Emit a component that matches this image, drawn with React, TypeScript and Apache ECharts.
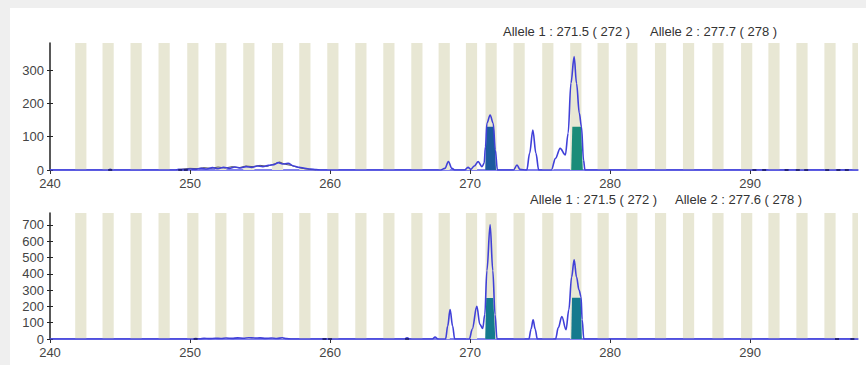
import React, { useEffect, useRef } from "react";
import * as echarts from "echarts";

const X_MIN = 240;
const X_MAX = 297.7;
const X_TICKS = [240, 250, 260, 270, 280, 290];
const TOP_Y_MAX = 381;
const TOP_Y_TICKS = [0, 100, 200, 300];
const BOTTOM_Y_MAX = 773;
const BOTTOM_Y_TICKS = [0, 100, 200, 300, 400, 500, 600, 700];

const BIN_CENTERS = [
  242.2, 244.15, 246.15, 248.15, 250.2, 252.2, 254.2, 256.25, 258.2, 260.2,
  262.2, 264.2, 266.2, 268.15, 270.1, 271.5, 273.5, 275.55, 277.55, 279.5,
  281.55, 283.6, 285.6, 287.7, 289.75, 291.7, 293.7, 295.7, 297.7,
];

const TOP_TITLE_1 = "Allele 1 : 271.5 ( 272 )";
const TOP_TITLE_2 = "Allele 2 : 277.7 ( 278 )";
const BOTTOM_TITLE_1 = "Allele 1 : 271.5 ( 272 )";
const BOTTOM_TITLE_2 = "Allele 2 : 277.6 ( 278 )";

const TOP_TRACE: [number, number][] = [
  [240, 0], [244.1, 0], [244.3, 2], [244.5, 0], [248.9, 0], [249.2, 2], [249.6, 1],
  [250, 3], [250.4, 2], [250.8, 5], [251.2, 3], [251.6, 7], [252, 4], [252.4, 8],
  [252.8, 5], [253.2, 9], [253.6, 6], [254, 10], [254.4, 8], [254.8, 12], [255.2, 10],
  [255.6, 14], [256, 16], [256.3, 22], [256.6, 18], [257, 20], [257.4, 12], [257.8, 8],
  [258.2, 5], [258.6, 3], [259, 1], [259.3, 0], [267.9, 0], [268.2, 5], [268.45, 25],
  [268.7, 5], [268.9, 0], [269.6, 0], [269.85, 8], [270.05, 2], [270.3, 12], [270.57, 25],
  [270.85, 10], [271.0, 20], [271.1, 70], [271.2, 140], [271.43, 165], [271.65, 140],
  [271.8, 60], [271.95, 0], [273.1, 0], [273.35, 15], [273.55, 2], [274.05, 0],
  [274.25, 50], [274.48, 120], [274.7, 50], [274.9, 0], [275.8, 0], [276.1, 35],
  [276.43, 65], [276.8, 45], [277.0, 110], [277.2, 260], [277.43, 340], [277.6, 260],
  [277.8, 170], [277.95, 130], [278.1, 30], [278.2, 0], [297.7, 0],
];

const TOP_NOISE: [number, number][] = [
  [249, 0], [249.5, 3], [250, 5], [250.5, 4], [251, 7], [251.5, 5], [252, 9], [252.5, 6],
  [253, 10], [253.5, 7], [254, 12], [254.5, 10], [255, 14], [255.5, 11], [256, 18],
  [256.4, 24], [256.8, 17], [257.2, 14], [257.6, 9], [258, 5], [258.5, 2], [259, 0],
];

const TOP_FILL_272: [number, number][] = [[271.08, 0], [271.18, 130], [271.7, 130], [271.85, 0]];
const TOP_FILL_278: [number, number][] = [[277.22, 0], [277.3, 130], [277.92, 130], [278.05, 0]];

const BOTTOM_TRACE: [number, number][] = [
  [240, 0], [250.2, 0], [250.4, 3], [250.7, 1], [251, 4], [251.4, 2], [251.8, 5],
  [252.2, 3], [252.6, 6], [253, 4], [253.4, 7], [253.8, 5], [254.2, 8], [254.6, 6],
  [255, 7], [255.4, 4], [255.8, 6], [256.2, 3], [256.6, 8], [256.9, 2], [257.2, 0],
  [265.3, 0], [265.5, 8], [265.7, 0], [267.3, 0], [267.5, 12], [267.7, 0], [268.25, 0],
  [268.4, 80], [268.57, 180], [268.75, 80], [268.9, 0], [269.95, 0], [270.15, 60],
  [270.48, 200], [270.7, 90], [270.9, 65], [271.05, 150], [271.2, 420], [271.43, 700],
  [271.62, 420], [271.78, 150], [271.92, 0], [274.2, 0], [274.35, 60], [274.5, 118],
  [274.65, 60], [274.8, 0], [276.1, 0], [276.3, 70], [276.55, 138], [276.85, 57],
  [277.05, 180], [277.25, 380], [277.43, 486], [277.6, 380], [277.78, 300],
  [277.92, 260], [278.0, 120], [278.12, 0], [297.7, 0],
];

const BOTTOM_FILL_272: [number, number][] = [[271.08, 0], [271.15, 251], [271.65, 251], [271.8, 0]];
const BOTTOM_FILL_278: [number, number][] = [[277.22, 0], [277.28, 253], [277.9, 253], [277.98, 0]];

const TOP_DOTS = [244.3, 249.3, 249.7, 290.3, 291.0, 292.6, 293.4, 294.0, 295.5, 296.3, 296.9];
const BOTTOM_DOTS = [250.4, 259.6, 260.0, 265.5, 296.2, 297.3];

const BIN_HALF = 0.4;
const TRACE_COLOR = "#4040d8";
const STRIPE_COLOR = "#e8e7d4";
const FONT = "'Liberation Sans', Arial, sans-serif";

function xAxisCfg(gridIndex: number) {
  return {
    type: "value",
    gridIndex,
    min: X_MIN,
    max: X_MAX,
    axisLine: { show: true, onZero: false, lineStyle: { color: "#5656e6", width: 1.5 } },
    axisTick: { show: true, length: 4, customValues: X_TICKS, lineStyle: { color: "#333" } },
    axisLabel: {
      customValues: X_TICKS,
      color: "#444",
      fontSize: 13,
      fontFamily: FONT,
      margin: 7,
    },
    splitLine: { show: false },
  };
}

function yAxisCfg(gridIndex: number, max: number, ticks: number[], inside: boolean) {
  return {
    type: "value",
    gridIndex,
    min: 0,
    max,
    position: "left",
    axisLine: { show: !inside, lineStyle: { color: "#222", width: 1.5 } },
    axisTick: {
      show: true,
      inside,
      length: 3,
      customValues: ticks,
      lineStyle: { color: "#222" },
    },
    axisLabel: {
      show: !inside,
      customValues: ticks,
      color: "#444",
      fontSize: 13,
      fontFamily: FONT,
      margin: 6,
    },
    splitLine: { show: false },
  };
}

function panelSeries(
  idx: number,
  trace: [number, number][],
  fills: { data: [number, number][]; color: string }[],
  dots: number[],
  noise?: [number, number][]
) {
  const s: any[] = [];
  s.push({
    type: "line",
    xAxisIndex: idx,
    yAxisIndex: idx * 2,
    data: trace,
    symbol: "none",
    smooth: 0.35,
    smoothMonotone: "x",
    z: 4,
    lineStyle: { color: TRACE_COLOR, width: 1.6 },
    markArea: {
      silent: true,
      itemStyle: { color: STRIPE_COLOR },
      data: BIN_CENTERS.map((c) => [{ xAxis: c - BIN_HALF }, { xAxis: c + BIN_HALF }]),
    },
  });
  fills.forEach((f) =>
    s.push({
      type: "line",
      xAxisIndex: idx,
      yAxisIndex: idx * 2,
      data: f.data,
      symbol: "none",
      z: 3,
      lineStyle: { width: 0, color: f.color },
      areaStyle: { color: f.color, opacity: 1 },
    })
  );
  if (noise) {
    s.push({
      type: "line",
      xAxisIndex: idx,
      yAxisIndex: idx * 2,
      data: noise,
      symbol: "none",
      z: 3,
      lineStyle: { color: "#555", width: 1 },
    });
  }
  s.push({
    type: "scatter",
    xAxisIndex: idx,
    yAxisIndex: idx * 2,
    data: dots.map((d) => [d, 0]),
    symbol: "rect",
    symbolSize: [4, 2],
    z: 5,
    itemStyle: { color: "#1a1a60" },
  });
  return s;
}

export default function App() {
  const ref = useRef<HTMLDivElement>(null);
  useEffect(() => {
    document.body.style.margin = "0";
    if (!ref.current) return;
    const chart = echarts.init(ref.current, undefined, { renderer: "svg" });
    const titleStyle = { fill: "#333", fontSize: 13, fontFamily: FONT };
    chart.setOption({
      animation: false,
      backgroundColor: "#efefef",
      grid: [
        { left: 50, right: 8, top: 43, height: 127, outerBoundsMode: "none" },
        { left: 50, right: 8, top: 213, height: 126, outerBoundsMode: "none" },
      ],
      xAxis: [xAxisCfg(0), xAxisCfg(1)],
      yAxis: [
        yAxisCfg(0, TOP_Y_MAX, TOP_Y_TICKS, false),
        yAxisCfg(0, TOP_Y_MAX, TOP_Y_TICKS, true),
        yAxisCfg(1, BOTTOM_Y_MAX, BOTTOM_Y_TICKS, false),
        yAxisCfg(1, BOTTOM_Y_MAX, BOTTOM_Y_TICKS, true),
      ],
      graphic: [
        { type: "rect", left: 10, top: 8, shape: { width: 856, height: 357 }, style: { fill: "#ffffff" }, z: -10 },
        { type: "text", left: 503, top: 25, style: { ...titleStyle, text: TOP_TITLE_1 } },
        { type: "text", left: 650, top: 25, style: { ...titleStyle, text: TOP_TITLE_2 } },
        { type: "text", left: 530, top: 193, style: { ...titleStyle, text: BOTTOM_TITLE_1 } },
        { type: "text", left: 675, top: 193, style: { ...titleStyle, text: BOTTOM_TITLE_2 } },
      ],
      series: [
        ...panelSeries(
          0,
          TOP_TRACE,
          [
            { data: TOP_FILL_272, color: "#1d5a9e" },
            { data: TOP_FILL_278, color: "#1b8c79" },
          ],
          TOP_DOTS,
          TOP_NOISE
        ),
        ...panelSeries(
          1,
          BOTTOM_TRACE,
          [
            { data: BOTTOM_FILL_272, color: "#157a8e" },
            { data: BOTTOM_FILL_278, color: "#157a8e" },
          ],
          BOTTOM_DOTS
        ),
      ],
    });
    return () => chart.dispose();
  }, []);
  return <div ref={ref} style={{ width: 866, height: 365 }} />;
}
